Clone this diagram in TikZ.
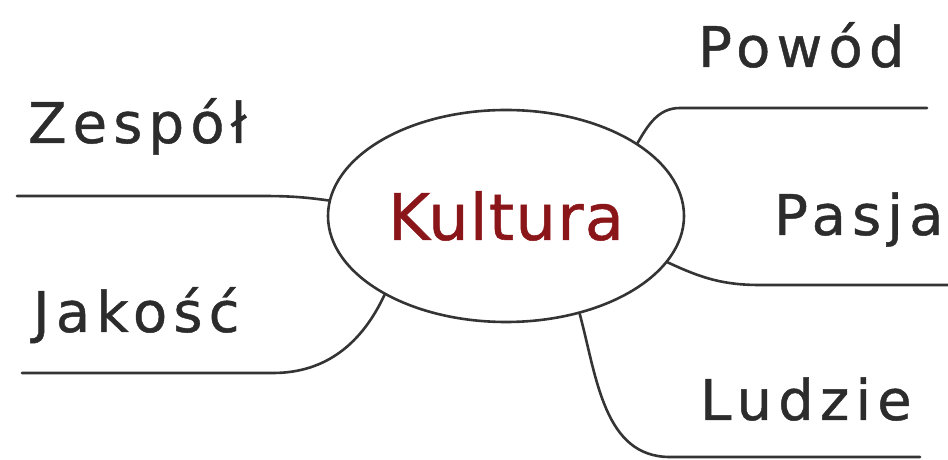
\documentclass[tikz,border=0pt]{standalone}
\usepackage{fontspec}
\newfontfamily\handfont[LetterSpace=11,FakeBold=0.8]{DejaVu Sans}
\newfontfamily\hubfont[LetterSpace=2,FakeBold=0.8]{DejaVu Sans}
\usetikzlibrary{shapes.geometric}
\definecolor{hubred}{RGB}{138,22,26}
\definecolor{inkgray}{RGB}{52,52,52}

\begin{document}
\begin{tikzpicture}[
      x=1pt, y=1pt,
      hub/.style={ellipse, draw=inkgray, line width=2.6pt, inner sep=0pt,
        minimum width=356pt, minimum height=212pt,
        font=\hubfont\fontsize{64}{70}\selectfont, text=hubred},
      leaf/.style={anchor=base west, inner sep=0pt,
        font=\handfont\fontsize{56}{60}\selectfont, text=inkgray!85!black},
      branch/.style={draw=inkgray, line width=2.6pt, line cap=round},
    ]
    \useasboundingbox (0,0) rectangle (948,460);
    \node[hub] (kult) at (506,244) {\raisebox{-4pt}{Kultura}};
    % labels
    \node[leaf] (zesp) at (28,317) {Zespół};
    \node[leaf] (jako) at (33,128) {Jakość};
    \node[leaf] (powo) at (698,393) {Powód};
    \node[leaf] (pasj) at (774,225) {Pasja};
    \node[leaf] (ludz) at (700,40) {Ludzie};
    % line ends
    \coordinate (zesp-bend) at (260,264);
    \coordinate (zesp-end) at (17,264);
    \coordinate (jako-bend) at (273,87);
    \coordinate (jako-end) at (22,87);
    \coordinate (powo-bend) at (680,352);
    \coordinate (powo-end) at (927,352);
    \coordinate (pasj-bend) at (760,175);
    \coordinate (pasj-end) at (948,175);
    \coordinate (ludz-bend) at (670,3);
    \coordinate (ludz-end) at (920,3);
    % branches
    \draw[branch] (kult.175.5) to[out=172, in=0] (zesp-bend) -- (zesp-end);
    \draw[branch] (kult.213.7) to[out=245, in=0] (jako-bend) -- (jako-end);
    \draw[branch] (kult.29.8) to[out=60, in=180] (powo-bend) -- (powo-end);
    \draw[branch] (kult.344.8) to[out=-25, in=180] (pasj-bend) -- (pasj-end);
    \draw[branch] (kult.307) to[out=-75, in=180] (ludz-bend) -- (ludz-end);
  \end{tikzpicture}
\end{document}
